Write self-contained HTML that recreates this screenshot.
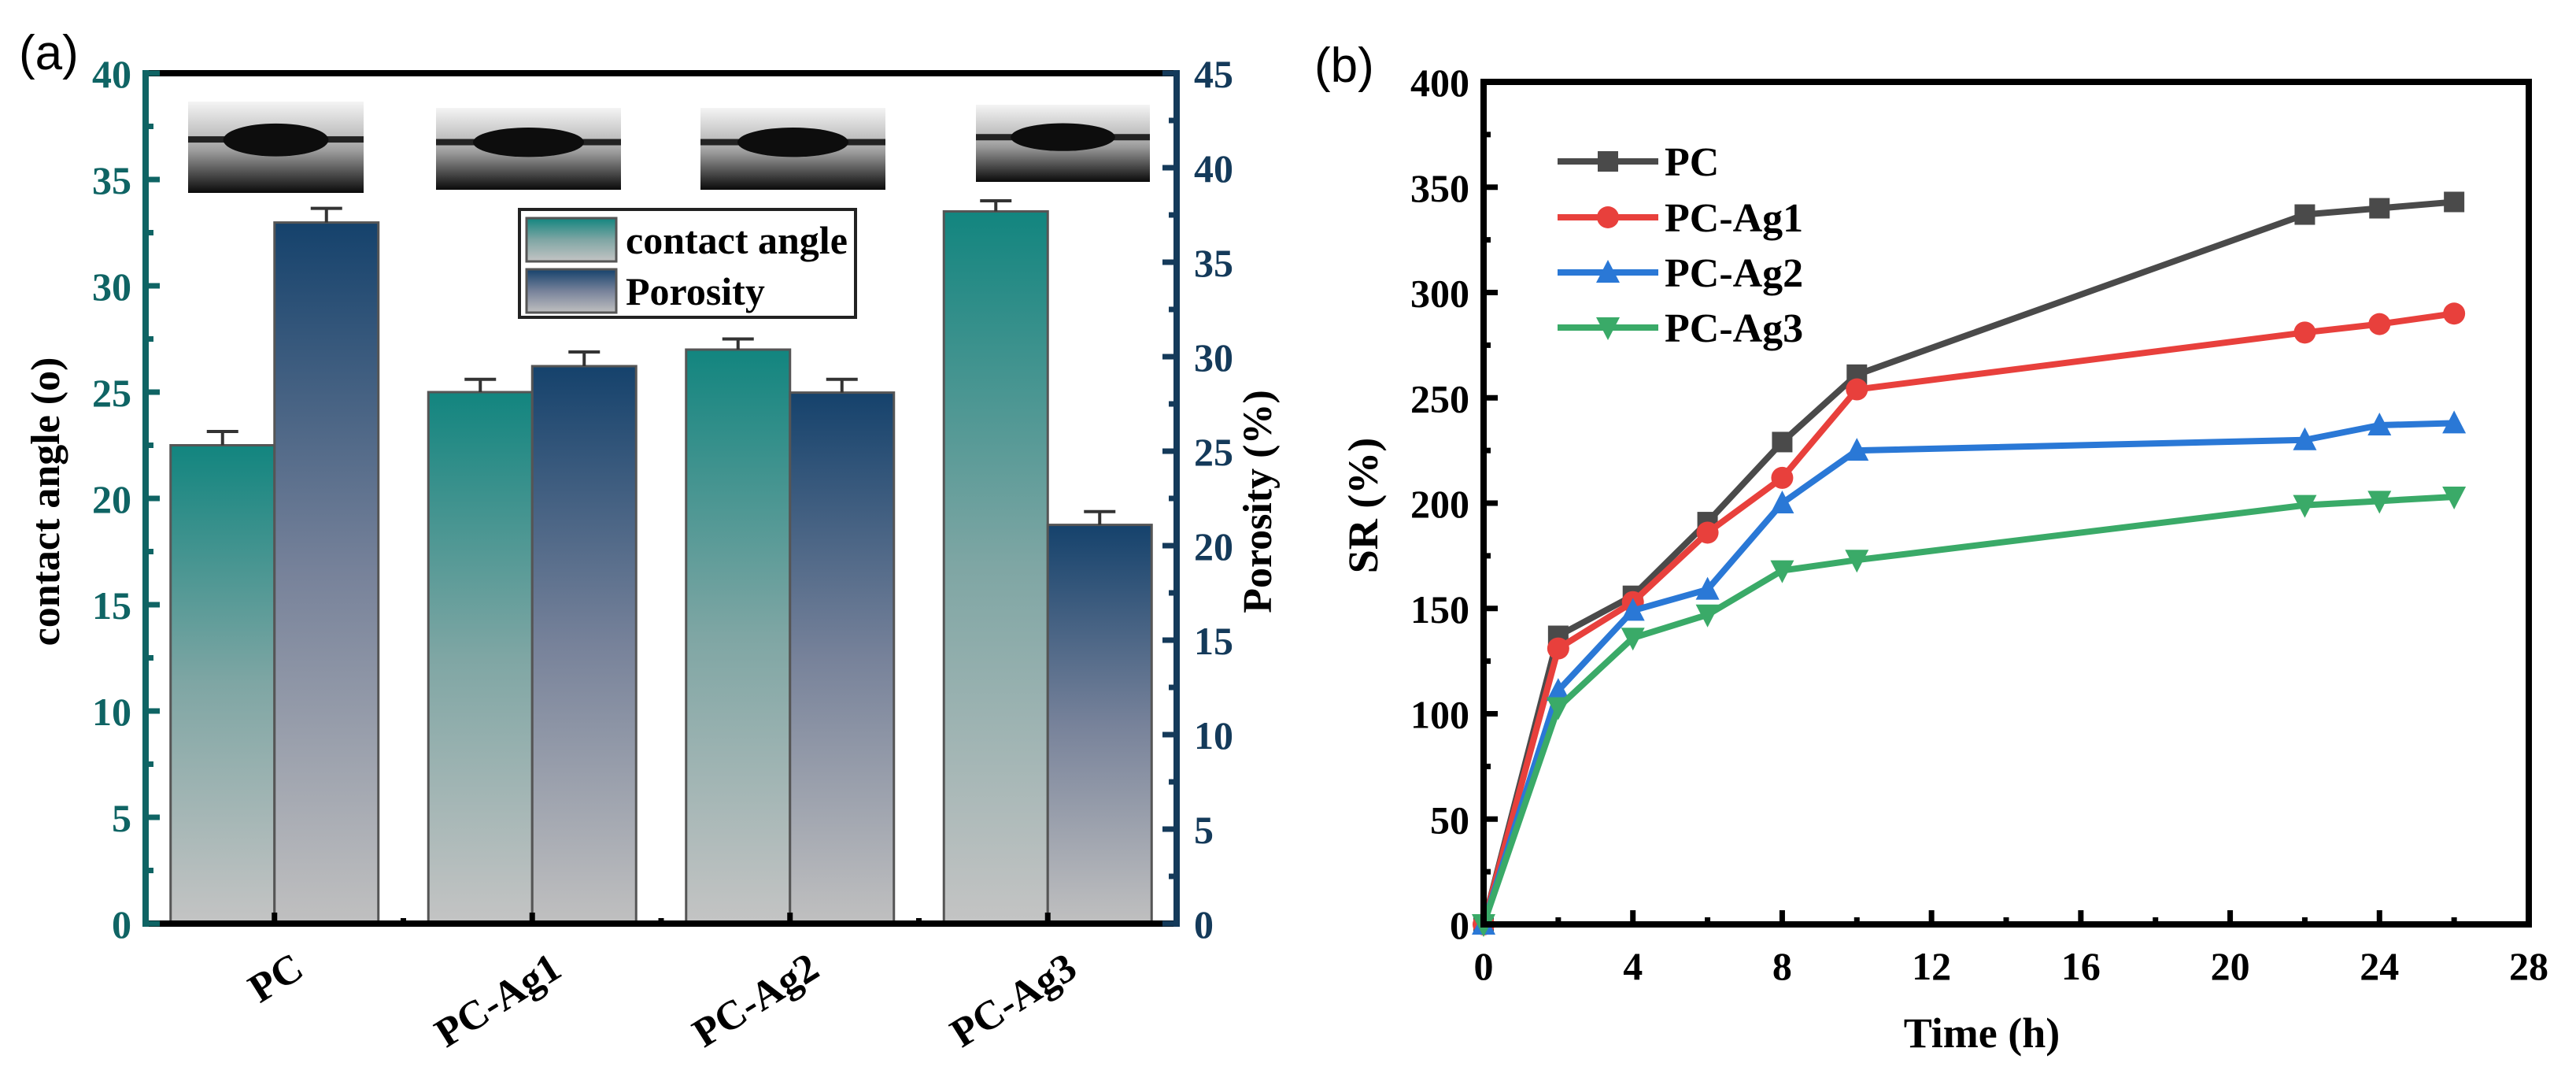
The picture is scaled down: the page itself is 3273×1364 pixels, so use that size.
<!DOCTYPE html>
<html><head><meta charset="utf-8"><title>Contact angle/porosity and SR chart</title>
<style>html,body{margin:0;padding:0;background:#fff}svg{display:block}
.serif{font-family:"Liberation Serif",serif;font-weight:bold}
.sans{font-family:"Liberation Sans",sans-serif}</style></head>
<body>
<svg id="chart" width="3273" height="1364" viewBox="0 0 3273 1364" xmlns="http://www.w3.org/2000/svg">
<defs>
<linearGradient id="gTeal" x1="0" y1="0" x2="0" y2="1"><stop offset="0" stop-color="#12857f"/><stop offset="0.5" stop-color="#7fa6a4"/><stop offset="1" stop-color="#c4c4c4"/></linearGradient>
<linearGradient id="gNavy" x1="0" y1="0" x2="0" y2="1"><stop offset="0" stop-color="#15426c"/><stop offset="0.5" stop-color="#77829a"/><stop offset="1" stop-color="#c0c0c0"/></linearGradient>
<linearGradient id="gPhoto" x1="0" y1="0" x2="0" y2="1"><stop offset="0" stop-color="#f4f4f4"/><stop offset="0.4" stop-color="#bbb"/><stop offset="0.55" stop-color="#999"/><stop offset="1" stop-color="#0a0a0a"/></linearGradient>
</defs>
<g id="panelA"></g>
<g id="panelB"></g>
</svg>
<script>
// ---- Panel (a) data ----
const categories = ["PC", "PC-Ag1", "PC-Ag2", "PC-Ag3"];
const contactAngle = [22.5, 25.0, 27.0, 33.5];
const contactAngleErr = [0.65, 0.6, 0.5, 0.5];
const porosity = [37.1, 29.5, 28.1, 21.1];
const porosityErr = [0.75, 0.75, 0.7, 0.7];
const leftTicks = [0, 5, 10, 15, 20, 25, 30, 35, 40];
const rightTicks = [0, 5, 10, 15, 20, 25, 30, 35, 40, 45];
// ---- Panel (b) data ----
const timeH = [0, 2, 4, 6, 8, 10, 22, 24, 26];
const srPC = [0, 137, 156, 191, 229, 261, 337, 340, 343];
const srAg1 = [0, 131, 153, 186, 212, 254, 281, 285, 290];
const srAg2 = [0, 111, 149, 159, 200, 225, 230, 237, 238];
const srAg3 = [0, 103, 136, 147, 168, 173, 199, 201, 203];
const seriesNames = ["PC", "PC-Ag1", "PC-Ag2", "PC-Ag3"];
const xTicksB = [0, 4, 8, 12, 16, 20, 24, 28];
const yTicksB = [0, 50, 100, 150, 200, 250, 300, 350, 400];

const NS = "http://www.w3.org/2000/svg";
function mk(parent, tag, attrs, text) {
  const e = document.createElementNS(NS, tag);
  for (const k in attrs) e.setAttribute(k, attrs[k]);
  if (text !== undefined) e.textContent = text;
  parent.appendChild(e);
  return e;
}
const A = document.getElementById("panelA");
const B = document.getElementById("panelB");

// ===== Panel A =====
const aL = 185, aR = 1495, aT = 93, aB = 1173;
const yL = v => aB - (v / 40) * (aB - aT);
const yR = v => aB - (v / 45) * (aB - aT);
const slot = (aR - aL) / categories.length;
const xC = i => aL + slot * (i + 0.5);
const bw = 132;

let t = mk(A, "text", {x: 24, y: 88, "font-size": 62, class: "sans"}, "(a)");



// photos
const photoBoxes = [[239,129,223,116],[554,137,235,104],[890,137,235,104],[1240,133,221,98]];
photoBoxes.forEach((p, i) => {
  const g = mk(A, "g", {});
  
  
  mk(g, "rect", {x: p[0], y: p[1], width: p[2], height: p[3], fill: "url(#gPhoto)"});
  mk(g, "rect", {x: p[0], y: p[1] + p[3] * 0.38, width: p[2], height: 8, fill: "#222"});
  mk(g, "ellipse", {cx: p[0] + p[2] / 2, cy: p[1] + p[3] * 0.42, rx: p[2] * 0.3, ry: p[3] * 0.18, fill: "#0d0d0d"});
});

// bars
categories.forEach((c, i) => {
  const x0 = xC(i) - bw;
  const b1 = mk(A, "rect", {x: x0, y: yL(contactAngle[i]), width: bw, height: aB - yL(contactAngle[i]), fill: "url(#gTeal)", stroke: "#555", "stroke-width": 3});
  
  
  const b2 = mk(A, "rect", {x: xC(i), y: yR(porosity[i]), width: bw, height: aB - yR(porosity[i]), fill: "url(#gNavy)", stroke: "#555", "stroke-width": 3});
  
  
  const e1 = mk(A, "path", {d: `M${x0 + bw / 2} ${yL(contactAngle[i])} V${yL(contactAngle[i] + contactAngleErr[i])} M${x0 + bw / 2 - 20} ${yL(contactAngle[i] + contactAngleErr[i])} H${x0 + bw / 2 + 20}`, stroke: "#333", "stroke-width": 4, fill: "none"});
  
  
  const e2 = mk(A, "path", {d: `M${xC(i) + bw / 2} ${yR(porosity[i])} V${yR(porosity[i] + porosityErr[i])} M${xC(i) + bw / 2 - 20} ${yR(porosity[i] + porosityErr[i])} H${xC(i) + bw / 2 + 20}`, stroke: "#333", "stroke-width": 4, fill: "none"});
  
  
  const lx = xC(i) + 40, ly = 1238;
  const lab = mk(A, "text", {x: lx, y: ly, "font-size": 52, class: "serif", "text-anchor": "end", transform: `rotate(-32 ${lx} ${ly})`}, c);
  
  
  mk(A, "line", {x1: xC(i), x2: xC(i), y1: aB, y2: aB - 14, stroke: "#000", "stroke-width": 7});
  if (i > 0) mk(A, "line", {x1: aL + slot * i, x2: aL + slot * i, y1: aB, y2: aB - 7, stroke: "#000", "stroke-width": 7});
});

// axes
let ax = mk(A, "line", {x1: aL, x2: aR, y1: aT, y2: aT, stroke: "#000", "stroke-width": 8});
 
ax = mk(A, "line", {x1: aL, x2: aR, y1: aB, y2: aB, stroke: "#000", "stroke-width": 8});
 
ax = mk(A, "line", {x1: aL, x2: aL, y1: aT - 4, y2: aB + 4, stroke: "#0f6464", "stroke-width": 8});
 
ax = mk(A, "line", {x1: aR, x2: aR, y1: aT - 4, y2: aB + 4, stroke: "#143a5a", "stroke-width": 8});
 

leftTicks.forEach(v => {
  mk(A, "line", {x1: aL, x2: aL + 18, y1: yL(v), y2: yL(v), stroke: "#0f6464", "stroke-width": 7});
  if (v < 40) mk(A, "line", {x1: aL, x2: aL + 10, y1: yL(v + 2.5), y2: yL(v + 2.5), stroke: "#0f6464", "stroke-width": 7});
  const tl = mk(A, "text", {x: aL - 18, y: yL(v) + 18, "font-size": 50, class: "serif", fill: "#0f6464", "text-anchor": "end"}, String(v));
  
  
});
rightTicks.forEach(v => {
  mk(A, "line", {x1: aR, x2: aR - 18, y1: yR(v), y2: yR(v), stroke: "#143a5a", "stroke-width": 7});
  if (v < 45) mk(A, "line", {x1: aR, x2: aR - 10, y1: yR(v + 2.5), y2: yR(v + 2.5), stroke: "#143a5a", "stroke-width": 7});
  const tl = mk(A, "text", {x: aR + 22, y: yR(v) + 18, "font-size": 50, class: "serif", fill: "#143a5a", "text-anchor": "start"}, String(v));
  
  
});
t = mk(A, "text", {x: 75, y: 637, "font-size": 52, class: "serif", "text-anchor": "middle", transform: "rotate(-90 75 637)"}, "contact angle (o)");
 
t = mk(A, "text", {x: 1615, y: 637, "font-size": 52, class: "serif", "text-anchor": "middle", transform: "rotate(-90 1615 637)"}, "Porosity (%)");
 

// legend A
const lg = mk(A, "g", {});
 
mk(lg, "rect", {x: 660, y: 266, width: 427, height: 137, fill: "#fff", stroke: "#222", "stroke-width": 4});
mk(lg, "rect", {x: 669, y: 277, width: 114, height: 55, fill: "url(#gTeal)", stroke: "#555", "stroke-width": 3});
mk(lg, "rect", {x: 669, y: 342, width: 114, height: 55, fill: "url(#gNavy)", stroke: "#555", "stroke-width": 3});
t = mk(lg, "text", {x: 795, y: 322, "font-size": 50, class: "serif"}, "contact angle");
 
t = mk(lg, "text", {x: 795, y: 387, "font-size": 50, class: "serif"}, "Porosity");
 

// ===== Panel B =====
const bL = 1885, bR = 3213, bT = 104, bB = 1174;
const xB = v => bL + (v / 28) * (bR - bL);
const yB = v => bB - (v / 400) * (bB - bT);
t = mk(B, "text", {x: 1670, y: 104, "font-size": 62, class: "sans"}, "(b)");
 

const colors = ["#4a4a4a", "#e8403c", "#2a78d6", "#3aaa68"];
const allSeries = [srPC, srAg1, srAg2, srAg3];
function marker(g, kind, x, y, col) {
  const s = 13;
  if (kind === 0) return mk(g, "rect", {x: x - s, y: y - s, width: 2 * s, height: 2 * s, fill: col});
  if (kind === 1) return mk(g, "circle", {cx: x, cy: y, r: s + 1, fill: col});
  if (kind === 2) return mk(g, "polygon", {points: `${x},${y - s - 3} ${x - s - 2},${y + s} ${x + s + 2},${y + s}`, fill: col});
  return mk(g, "polygon", {points: `${x},${y + s + 3} ${x - s - 2},${y - s} ${x + s + 2},${y - s}`, fill: col});
}
allSeries.forEach((ser, k) => {
  const g = mk(B, "g", {});
  
  
  const pts = ser.map((v, i) => xB(timeH[i]) + "," + yB(v)).join(" ");
  const ln = mk(g, "polyline", {points: pts, fill: "none", stroke: colors[k], "stroke-width": 8, "stroke-linejoin": "round"});
  
  
  ser.forEach((v, i) => {
    const m = marker(g, k, xB(timeH[i]), yB(v), colors[k]);
    
    
  });
});

ax = mk(B, "rect", {x: bL, y: bT, width: bR - bL, height: bB - bT, fill: "none", stroke: "#000", "stroke-width": 8});
 
xTicksB.forEach(v => {
  mk(B, "line", {x1: xB(v), x2: xB(v), y1: bB, y2: bB - 18, stroke: "#000", "stroke-width": 7});
  if (v < 28) mk(B, "line", {x1: xB(v + 2), x2: xB(v + 2), y1: bB, y2: bB - 9, stroke: "#000", "stroke-width": 7});
  const tl = mk(B, "text", {x: xB(v), y: 1244, "font-size": 50, class: "serif", "text-anchor": "middle"}, String(v));
   
});
yTicksB.forEach(v => {
  mk(B, "line", {x1: bL, x2: bL + 18, y1: yB(v), y2: yB(v), stroke: "#000", "stroke-width": 7});
  if (v < 400) mk(B, "line", {x1: bL, x2: bL + 9, y1: yB(v + 25), y2: yB(v + 25), stroke: "#000", "stroke-width": 7});
  const tl = mk(B, "text", {x: bL - 18, y: yB(v) + 18, "font-size": 50, class: "serif", "text-anchor": "end"}, String(v));
   
});
t = mk(B, "text", {x: 1750, y: 642, "font-size": 54, class: "serif", "text-anchor": "middle", transform: "rotate(-90 1750 642)"}, "SR (%)");
 
t = mk(B, "text", {x: 2518, y: 1330, "font-size": 54, class: "serif", "text-anchor": "middle"}, "Time (h)");
 

// legend B
const lgb = mk(B, "g", {});
 
const legY = [205, 276, 346, 416];
seriesNames.forEach((n, k) => {
  const e = mk(lgb, "g", {});
  
  
  mk(e, "line", {x1: 1979, x2: 2107, y1: legY[k], y2: legY[k], stroke: colors[k], "stroke-width": 8});
  marker(e, k, 2043, legY[k], colors[k]);
  mk(e, "text", {x: 2115, y: legY[k] + 18, "font-size": 52, class: "serif"}, n);
});
</script>
</body></html>
